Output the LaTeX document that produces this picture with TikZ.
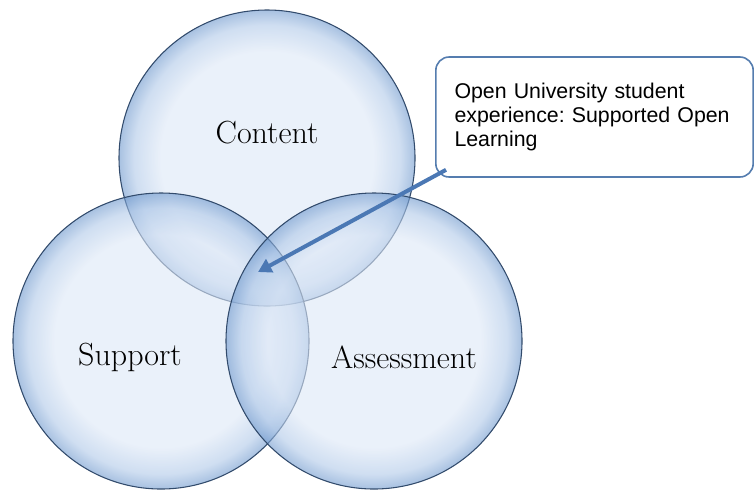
\documentclass[tikz,border=0pt]{standalone}
\usepackage{fontspec}
\newfontfamily\calloutfont{Liberation Sans}
\usetikzlibrary{arrows.meta}
\definecolor{paleblue}{RGB}{220,231,246}
\definecolor{midblue}{RGB}{175,200,232}
\definecolor{rimblue}{RGB}{110,152,205}
\definecolor{edgeblue}{RGB}{50,75,108}
\definecolor{boxblue}{RGB}{85,125,175}
\definecolor{arrowblue}{RGB}{75,120,180}
\pgfdeclareradialshading{glass}{\pgfpoint{0bp}{0bp}}{color(0bp)=(paleblue); color(18bp)=(paleblue);
    color(22.5bp)=(midblue); color(25bp)=(rimblue); color(50bp)=(rimblue)}
\newcommand{\nohyph}{\hyphenpenalty=10000\frenchspacing\relax}

\begin{document}
\begin{tikzpicture}[x=0.75pt,y=-0.75pt,
        venn/.style={circle,minimum size=222pt,inner sep=0pt,draw=edgeblue,line width=0.8pt,
            shading=glass,fill opacity=0.6,draw opacity=1},
        vennlabel/.style={font=\fontsize{24}{28}\selectfont,text=black,inner sep=0pt},
        callout/.style={draw=boxblue,line width=1.2pt,rounded corners=10pt,fill=white,
            minimum width=238pt,minimum height=90pt,text width=210pt,inner xsep=14pt,
            align=left,font=\calloutfont\fontsize{16}{18}\selectfont\nohyph}]
        \useasboundingbox (0,0) rectangle (755,490);
        \node[venn] (content) at (267,158) {};
        \node[venn] (support) at (161,341) {};
        \node[venn] (assess) at (374,341) {};
        \node[vennlabel] (contentlbl) at (267,133) {Content};
        \node[vennlabel] (supportlbl) at (130,357) {Support};
        \node[vennlabel] (assesslbl) at (404,357) {Assessment};
        \node[callout] (note) at (594.5,117) {Open University student experience: Supported Open Learning};
        \coordinate (tail) at ([shift={(11,-8)}]note.south west);
        \coordinate (tip) at (258,272);
        \draw[arrowblue,line width=3pt,-{Triangle[length=10pt,width=11pt]}] (tail) -- (tip);
\end{tikzpicture}
\end{document}
